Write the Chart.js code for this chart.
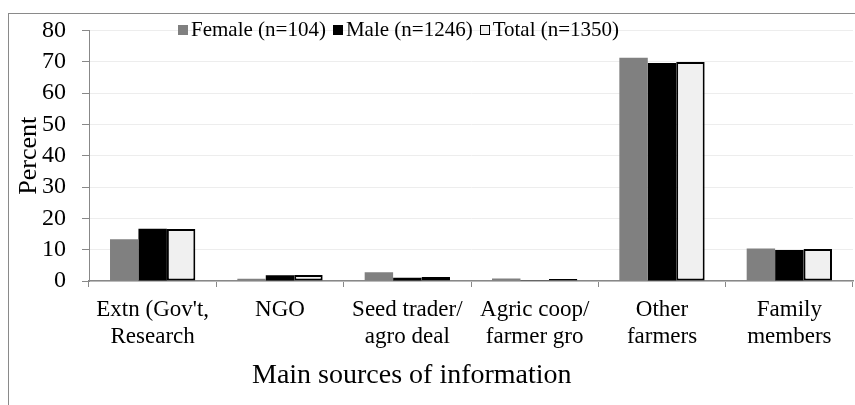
<!DOCTYPE html>
<html>
<head>
<meta charset="utf-8">
<script src="https://cdn.jsdelivr.net/npm/chart.js@4"></script>
<style>
  body { margin: 0; background: #fff; }
  #wrap { position: relative; width: 855px; height: 405px; overflow: hidden; }
  #frame { position: absolute; left: 8px; top: 13px; width: 900px; height: 450px; border: 1px solid #8a8a8a; }
  canvas { position: absolute; left: 0; top: 0; }
  .lbl { position: absolute; font-family: "Liberation Serif", "Times New Roman", serif; color: #000; white-space: nowrap; }
  #legend { left: 178px; top: 17px; font-size: 21px; line-height: 24px; }
  #legend span.sw { display: inline-block; width: 10px; height: 10px; margin-right: 3px; vertical-align: 1px; box-sizing: border-box; }
  #legend span.item { margin-right: 7px; }
  #xtitle { left: 252px; top: 357px; font-size: 28px; line-height: 34px; }
</style>
</head>
<body>
<div id="wrap">
  <div id="frame"></div>
  <canvas id="myChart" width="855" height="405"></canvas>
  <div id="legend" class="lbl"></div>
  <div id="xtitle" class="lbl">Main sources of information</div>
</div>
<script>
"use strict";

const sources = [["Extn (Gov't,", "Research"], "NGO", ["Seed trader/", "agro deal"],
                 ["Agric coop/", "farmer gro"], ["Other", "farmers"], ["Family", "members"]]
const seriesNames = ["Female (n=104)", "Male (n=1246)", "Total (n=1350)"]
const female = [13.3, 0.7, 2.8, 0.8, 71.3, 10.4]
const male = [16.7, 1.8, 1.0, 0.2, 69.6, 9.9]
const total = [16.6, 1.9, 1.3, 0.6, 69.9, 10.2]
const yTicks = [0, 10, 20, 30, 40, 50, 60, 70, 80]

const fills = ["#808080", "#000000", "#f0f0f0"]
const borders = ["#808080", "#000000", "#000000"]
const serif = "Liberation Serif"

// html legend
const legend = document.querySelector("#legend");
seriesNames.forEach((name, i) => {
    const item = document.createElement("span");
    item.className = "item";
    const sw = document.createElement("span");
    sw.className = "sw";
    sw.style.background = fills[i];
    if (i === 2) sw.style.border = "1.5px solid #000";
    item.appendChild(sw);
    item.appendChild(document.createTextNode(name));
    legend.appendChild(item);
});

new Chart("myChart", {
    type: 'bar',
    data: {
        labels: sources,
        datasets: [female, male, total].map((vals, i) => ({
            label: seriesNames[i],
            data: vals,
            backgroundColor: fills[i],
            borderColor: borders[i],
            borderWidth: i === 2 ? 2 : 0,
            borderSkipped: false,
            categoryPercentage: 0.67,
            barPercentage: 1.0
        }))
    },
    options: {
        responsive: false,
        animation: false,
        layout: { padding: { top: 29, right: 2, bottom: 0, left: 0 } },
        plugins: {
            legend: { display: false },
            tooltip: { enabled: false }
        },
        scales: {
            x: {
                z: 1,
                grid: { offset: true, drawOnChartArea: false, tickLength: 6, tickColor: '#888' },
                border: { color: '#888', width: 1.5 },
                ticks: { color: '#000', padding: 9, maxRotation: 0, autoSkip: false,
                         font: { family: serif, size: 23, lineHeight: 1.2 } },
                afterFit: (s) => { s.height = 124; }
            },
            y: {
                min: 0,
                max: 80,
                afterBuildTicks: (s) => { s.ticks = yTicks.map(v => ({ value: v })); },
                grid: { color: '#ededed', tickLength: 7, tickColor: '#888' },
                border: { color: '#888' },
                ticks: { color: '#000', padding: 16, autoSkip: false, font: { family: serif, size: 24 } },
                title: { display: true, text: 'Percent', color: '#000', padding: { top: 14, bottom: 0 },
                         font: { family: serif, size: 26 } },
                afterFit: (s) => { s.width = 89; }
            }
        }
    }
})
</script>
</body>
</html>
